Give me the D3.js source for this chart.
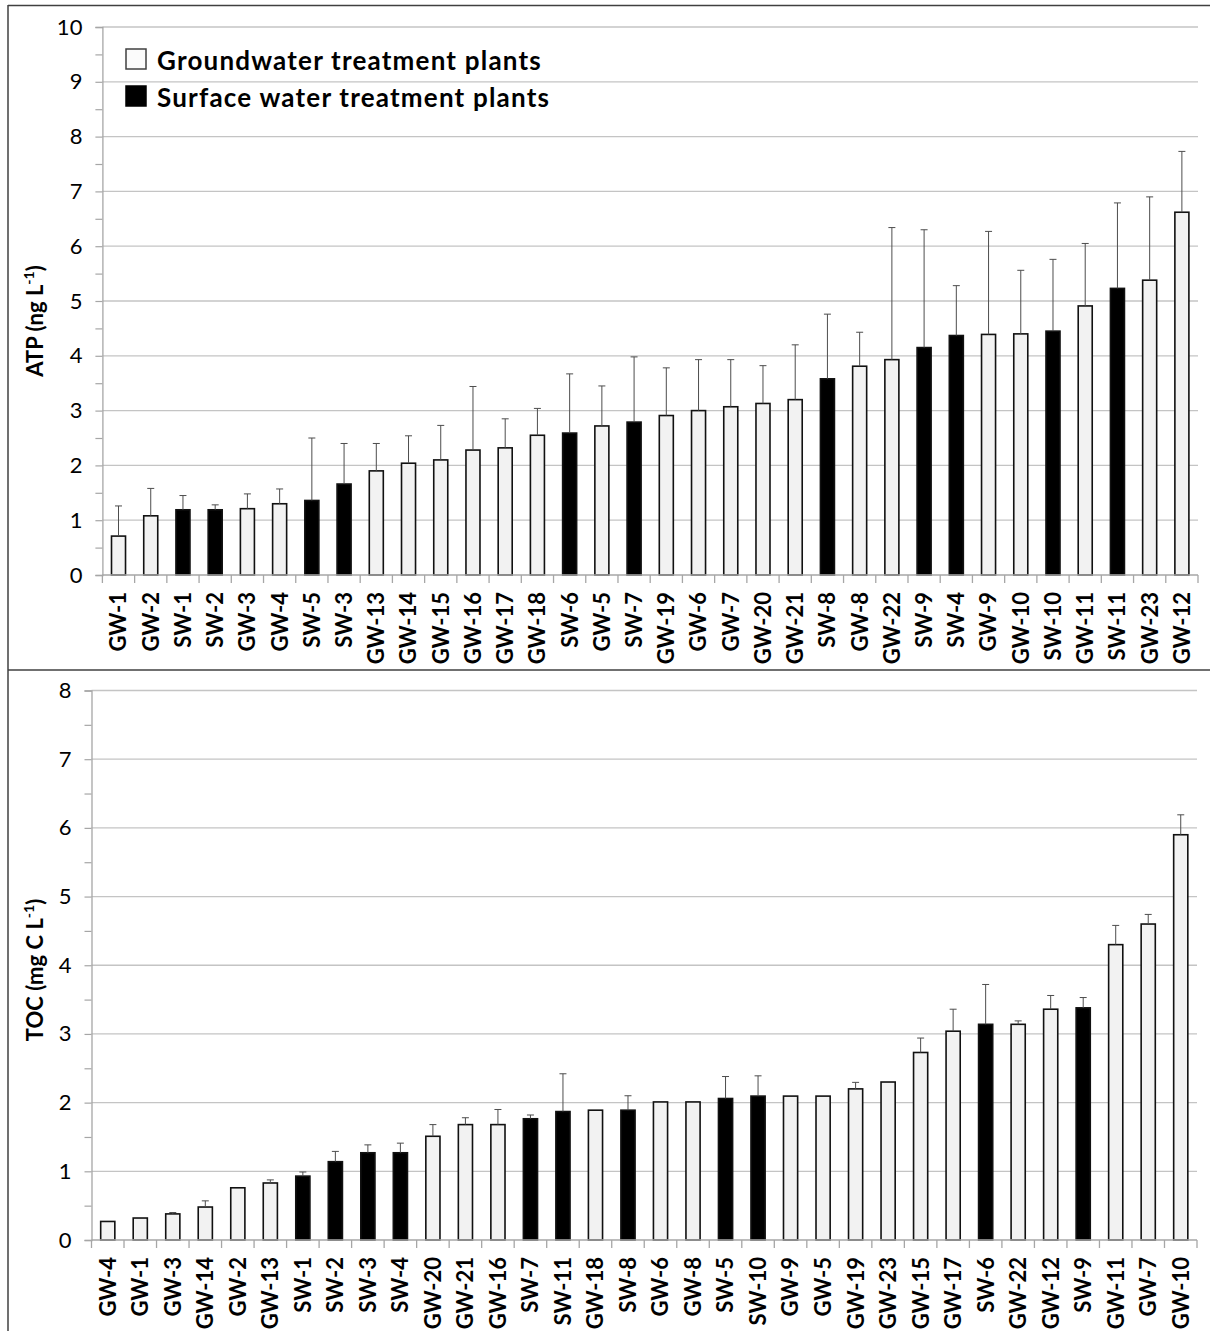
<!DOCTYPE html>
<html>
<head>
<meta charset="utf-8">
<script src="https://cdn.jsdelivr.net/npm/d3@7/dist/d3.min.js"></script>
<style>
  html, body { margin: 0; padding: 0; background: #fff; }
  svg { display: block; }
  text { font-family: Lato, "Open Sans", "Liberation Sans", sans-serif; fill: #000; }
</style>
</head>
<body>
<svg id="chart" width="1210" height="1331"></svg>
<script>
// ATP concentrations per treatment plant (mean and standard deviation, ng L-1)
const atpSites = ["GW-1","GW-2","SW-1","SW-2","GW-3","GW-4","SW-5","SW-3","GW-13","GW-14","GW-15","GW-16","GW-17","GW-18","SW-6","GW-5","SW-7","GW-19","GW-6","GW-7","GW-20","GW-21","SW-8","GW-8","GW-22","SW-9","SW-4","GW-9","GW-10","SW-10","GW-11","SW-11","GW-23","GW-12"];
const atpMean = [0.71,1.08,1.19,1.19,1.21,1.30,1.36,1.66,1.90,2.04,2.10,2.28,2.32,2.55,2.59,2.72,2.79,2.91,3.00,3.07,3.13,3.20,3.58,3.81,3.93,4.15,4.37,4.39,4.40,4.45,4.91,5.23,5.38,6.62];
const atpSD   = [0.55,0.50,0.26,0.09,0.27,0.27,1.14,0.74,0.50,0.50,0.63,1.16,0.53,0.49,1.08,0.73,1.19,0.87,0.93,0.86,0.69,1.00,1.18,0.62,2.41,2.15,0.91,1.88,1.16,1.31,1.14,1.56,1.52,1.11];
const atpTicks = [0,1,2,3,4,5,6,7,8,9,10];

// TOC concentrations per treatment plant (mean and standard deviation, mg C L-1)
const tocSites = ["GW-4","GW-1","GW-3","GW-14","GW-2","GW-13","SW-1","SW-2","SW-3","SW-4","GW-20","GW-21","GW-16","SW-7","SW-11","GW-18","SW-8","GW-6","GW-8","SW-5","SW-10","GW-9","GW-5","GW-19","GW-23","GW-15","GW-17","SW-6","GW-22","GW-12","SW-9","GW-11","GW-7","GW-10"];
const tocMean = [0.27,0.32,0.38,0.48,0.76,0.83,0.93,1.14,1.27,1.27,1.51,1.68,1.68,1.765,1.87,1.89,1.89,2.01,2.01,2.06,2.095,2.095,2.095,2.20,2.30,2.73,3.04,3.14,3.14,3.36,3.38,4.30,4.60,5.90];
const tocSD   = [0,0,0.02,0.09,0,0.045,0.06,0.15,0.115,0.14,0.17,0.10,0.22,0.055,0.55,0,0.21,0,0,0.32,0.295,0,0,0.095,0,0.21,0.32,0.58,0.05,0.20,0.15,0.28,0.14,0.29];
const tocTicks = [0,1,2,3,4,5,6,7,8];

const legendLabels = ["Groundwater treatment plants", "Surface water treatment plants"];

const svg = d3.select("#chart");
const GW_FILL = "#f2f2f2", SW_FILL = "#000";
const isSurface = s => s.startsWith("SW");

// Outer frame and the divider between the two panels
const frame = svg.append("g").attr("stroke", "#404040").attr("stroke-width", 1.5).attr("fill", "none");
frame.append("line").attr("x1", 8).attr("x2", 8).attr("y1", 5).attr("y2", 1331);
frame.append("line").attr("x1", 8).attr("x2", 1210).attr("y1", 5.5).attr("y2", 5.5);
frame.append("line").attr("x1", 8).attr("x2", 1210).attr("y1", 670).attr("y2", 670);

function panel(opts) {
  const { sites, mean, sd, ticks, x0, x1, yBottom, yTop, titleMain, titleUnit, titleSup, titleTail, titleY } = opts;
  const g = svg.append("g");
  const ymax = ticks[ticks.length - 1];

  const x = d3.scaleBand().domain(sites).range([x0, x1]).paddingInner(0.565).paddingOuter(0.2825);
  const y = d3.scaleLinear().domain([0, ymax]).range([yBottom, yTop]);

  // horizontal gridlines
  g.append("g").selectAll("line").data(ticks.filter(t => t > 0)).join("line")
    .attr("x1", x0).attr("x2", x1)
    .attr("y1", d => y(d)).attr("y2", d => y(d))
    .attr("stroke", "#c4c4c4").attr("stroke-width", 1.3);

  // y axis with half-unit ticks, labels only on whole numbers
  const yAxis = d3.axisLeft(y)
    .tickValues(d3.range(0, ymax + 0.01, 0.5))
    .tickSize(7).tickPadding(13)
    .tickFormat(d => Number.isInteger(d) ? d : "");
  const ya = g.append("g").attr("transform", `translate(${x0},0)`).call(yAxis);
  ya.select(".domain").attr("stroke", "#a6a6a6").attr("stroke-width", 1.3);
  ya.selectAll(".tick line").attr("stroke", "#a6a6a6").attr("stroke-width", 1.2);
  ya.selectAll(".tick text").attr("font-size", 22).attr("font-family", "Lato, sans-serif").attr("fill", "#000");

  // y axis title with superscript
  const title = g.append("text")
    .attr("transform", `translate(43,${titleY}) rotate(-90)`)
    .attr("text-anchor", "middle")
    .attr("font-size", 22).attr("font-weight", "bold");
  title.append("tspan").text(titleMain + " " + titleUnit);
  title.append("tspan").attr("dy", -9).attr("font-size", 14).text(titleSup);
  title.append("tspan").attr("dy", 9).text(titleTail);

  // bars
  g.append("g").selectAll("rect").data(sites).join("rect")
    .attr("x", d => x(d)).attr("width", x.bandwidth())
    .attr("y", (d, i) => y(mean[i]))
    .attr("height", (d, i) => y(0) - y(mean[i]))
    .attr("fill", d => isSurface(d) ? SW_FILL : GW_FILL)
    .attr("stroke", "#111").attr("stroke-width", 1.6);

  // upward error bars
  const eb = g.append("g").attr("stroke", "#4d4d4d").attr("stroke-width", 1);
  sites.forEach((s, i) => {
    if (!(sd[i] > 0)) return;
    const cx = x(s) + x.bandwidth() / 2;
    const top = y(mean[i] + sd[i]);
    eb.append("line").attr("x1", cx).attr("x2", cx).attr("y1", y(mean[i])).attr("y2", top);
    eb.append("line").attr("x1", cx - 3.5).attr("x2", cx + 3.5).attr("y1", top).attr("y2", top);
  });

  // x axis line and category boundary ticks
  const xa = g.append("g").attr("stroke", "#a6a6a6").attr("stroke-width", 1.3);
  xa.append("line").attr("x1", x0).attr("x2", x1).attr("y1", yBottom).attr("y2", yBottom);
  d3.range(sites.length + 1).forEach(i => {
    const bx = x0 + i * x.step();
    xa.append("line").attr("x1", bx).attr("x2", bx).attr("y1", yBottom).attr("y2", yBottom + 8);
  });

  // rotated category labels
  g.append("g").selectAll("text").data(sites).join("text")
    .attr("transform", d => `translate(${x(d) + x.bandwidth() / 2},${yBottom + 17}) rotate(-90)`)
    .attr("text-anchor", "end").attr("dy", "0.36em")
    .attr("font-size", 22).attr("font-weight", "bold")
    .text(d => d);

  return { x, y };
}

panel({
  sites: atpSites, mean: atpMean, sd: atpSD, ticks: atpTicks,
  x0: 102.4, x1: 1198, yBottom: 575, yTop: 27,
  titleMain: "ATP", titleUnit: "(ng L", titleSup: "-1", titleTail: ")", titleY: 321
});

panel({
  sites: tocSites, mean: tocMean, sd: tocSD, ticks: tocTicks,
  x0: 91.5, x1: 1197, yBottom: 1240, yTop: 690.5,
  titleMain: "TOC", titleUnit: "(mg C L", titleSup: "-1", titleTail: ")", titleY: 970
});

// legend
const legend = svg.append("g");
legendLabels.forEach((lab, i) => {
  const ly = 49 + i * 37;
  legend.append("rect").attr("x", 126).attr("y", ly).attr("width", 20).attr("height", 20)
    .attr("fill", i === 0 ? "#fbfbfb" : "#000")
    .attr("stroke", i === 0 ? "#404040" : "#000").attr("stroke-width", 1.5);
  legend.append("text").attr("x", 157).attr("y", ly + 21)
    .attr("font-size", 26).attr("font-weight", "bold")
    .attr("letter-spacing", 1.2).text(lab);
});
</script>
</body>
</html>
